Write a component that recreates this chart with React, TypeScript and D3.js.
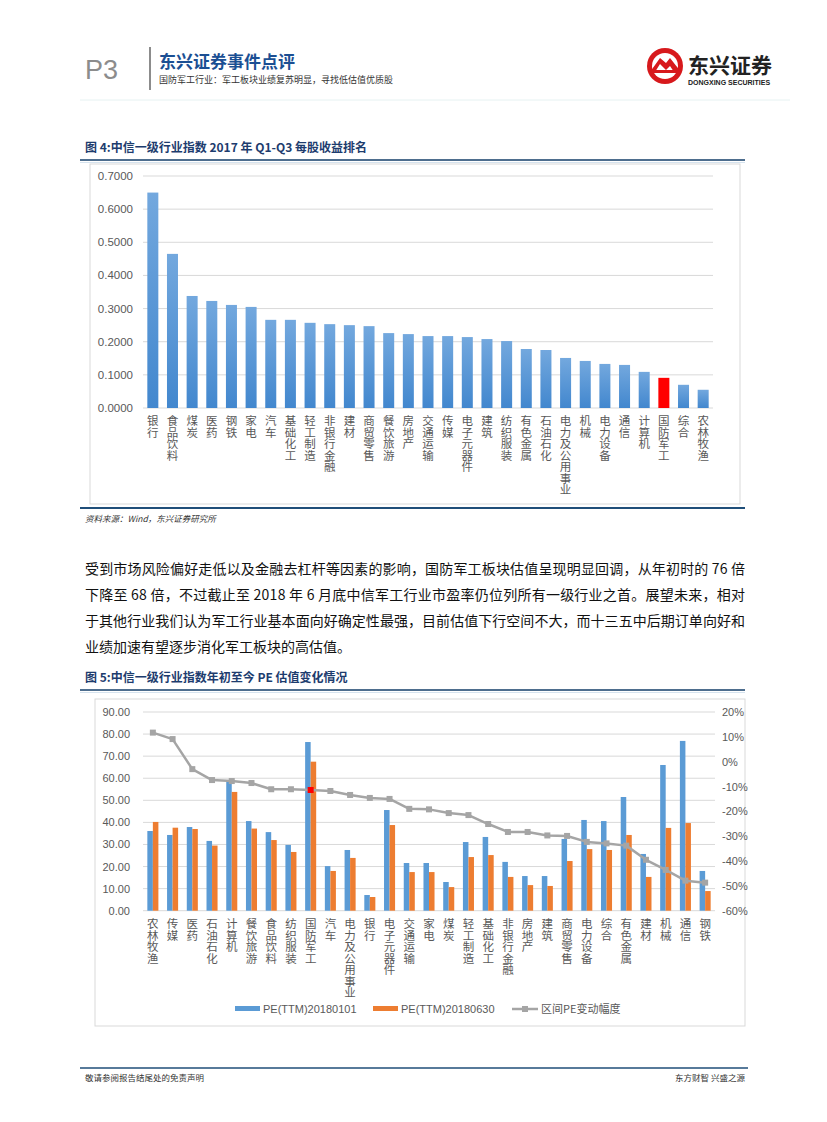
import React from "react";
import * as d3 from "d3";

const cats1 = ["银行","食品饮料","煤炭","医药","钢铁","家电","汽车","基础化工","轻工制造","非银行金融","建材","商贸零售","餐饮旅游","房地产","交通运输","传媒","电子元器件","建筑","纺织服装","有色金属","石油石化","电力及公用事业","机械","电力设备","通信","计算机","国防军工","综合","农林牧渔"];
const eps1 = [0.650,0.465,0.338,0.323,0.311,0.305,0.266,0.266,0.257,0.253,0.250,0.247,0.226,0.223,0.217,0.217,0.214,0.208,0.202,0.178,0.175,0.151,0.142,0.133,0.130,0.109,0.091,0.070,0.055];
const ticks1 = [0,0.1,0.2,0.3,0.4,0.5,0.6,0.7];

const cats2 = ["农林牧渔","传媒","医药","石油石化","计算机","餐饮旅游","食品饮料","纺织服装","国防军工","汽车","电力及公用事业","银行","电子元器件","交通运输","家电","煤炭","轻工制造","基础化工","非银行金融","房地产","建筑","商贸零售","电力设备","综合","有色金属","建材","机械","通信","钢铁"];
const pe0101 = [36.1,34.3,37.9,31.6,58.5,40.6,35.6,29.8,76.4,20.2,27.5,7.1,45.6,21.6,21.6,13.0,31.1,33.4,22.1,15.7,15.7,32.5,41.1,40.6,51.5,25.7,66.0,76.9,18.0];
const pe0630 = [40.2,37.6,37.0,29.5,53.8,37.2,32.0,26.6,67.5,18.0,23.9,6.2,38.8,17.5,17.5,10.7,24.3,25.2,15.3,11.6,11.2,22.5,27.9,27.5,34.3,15.3,37.5,39.7,8.9];
const peChange = [11.7,9.1,-3.0,-7.4,-7.8,-8.6,-11.1,-11.1,-11.4,-11.8,-13.4,-14.6,-15.0,-19.0,-19.2,-20.7,-21.5,-25.1,-28.3,-28.3,-29.7,-29.9,-32.3,-32.9,-33.8,-39.5,-43.6,-47.9,-48.7];
const leftTicks2 = [0,10,20,30,40,50,60,70,80,90];
const rightTicks2 = [20,10,0,-10,-20,-30,-40,-50,-60];

const paraLines = [
  "受到市场风险偏好走低以及金融去杠杆等因素的影响，国防军工板块估值呈现明显回调，从年初时的 76 倍",
  "下降至 68 倍，不过截止至 2018 年 6 月底中信军工行业市盈率仍位列所有一级行业之首。展望未来，相对",
  "于其他行业我们认为军工行业基本面向好确定性最强，目前估值下行空间不大，而十三五中后期订单向好和",
  "业绩加速有望逐步消化军工板块的高估值。",
];

const CJK = "'Noto Sans CJK SC', sans-serif";
const NUM = "'Liberation Sans', 'Noto Sans CJK SC', sans-serif";
const AX = "#595959";
const GRID = "#d9d9d9";
const BLUE = "#5b9bd5";
const ORANGE = "#ed7d31";
const GRAY = "#a5a5a5";

function VLabel({ x, y, s, size = 11.5 }: { x: number; y: number; s: string; size?: number }) {
  return (
    <text x={x} y={y} fontFamily={CJK} fontSize={size} fill={AX}
      style={{ writingMode: "vertical-rl", textOrientation: "upright" } as React.CSSProperties}>
      {s}
    </text>
  );
}

export default function App() {
  // Chart 1 scales
  const x1 = d3.scaleBand<string>().domain(cats1).range([143, 713]).paddingInner(0.44).paddingOuter(0.22);
  const y1 = d3.scaleLinear().domain([0, 0.7]).range([408, 176]);

  // Chart 2 scales
  const x2 = d3.scaleBand<string>().domain(cats2).range([143, 715]).paddingInner(0.44).paddingOuter(0.22);
  const xs = d3.scaleBand<string>().domain(["a", "b"]).range([0, x2.bandwidth()]);
  const yL = d3.scaleLinear().domain([0, 90]).range([910.7, 712]);
  const yR = d3.scaleLinear().domain([-60, 20]).range([910.7, 712]);
  const line = d3.line<number>().x((_, i) => (x2(cats2[i]) as number) + x2.bandwidth() / 2).y((d) => yR(d));

  return (
    <svg width={827} height={1122} style={{ position: "absolute", left: 0, top: 0, background: "#fff" }}>
      <defs>
        <linearGradient id="g1" x1="0" y1="0" x2="0" y2="1">
          <stop offset="0" stopColor="#73a8de" />
          <stop offset="1" stopColor="#4287ce" />
        </linearGradient>
      </defs>

      {/* Header */}
      <text x={85} y={79} fontFamily={NUM} fontSize={27} fill="#8c8c8c">P3</text>
      <line x1={150} y1={47} x2={150} y2={90} stroke="#8c8c8c" strokeWidth={2} />
      <text x={159} y={68} fontFamily={CJK} fontSize={17} fontWeight={700} fill="#1b4f93">东兴证券事件点评</text>
      <text x={159} y={83} fontFamily={CJK} fontSize={9} fill="#333">国防军工行业：军工板块业绩复苏明显，寻找低估值优质股</text>
      <g>
        <circle cx={665} cy={66} r={18} fill="#d7191c" />
        <circle cx={665} cy={66} r={13} fill="#fff" />
        <path d="M650,72 L660,58 L666,63 L670,58 L681,72 L674,72 L670,66 L666,70 L660,64 L655,72 Z" fill="#d7191c" />
        <rect x={652} y={70} width={26} height={3} fill="#d7191c" />
      </g>
      <text x={688} y={73} fontFamily={CJK} fontSize={21} fontWeight={700} fill="#222">东兴证券</text>
      <text x={688} y={85} fontFamily={NUM} fontSize={7} fontWeight={700} fill="#222">DONGXING SECURITIES</text>
      <line x1={80} y1={100} x2={790} y2={100} stroke="#e6f2f2" strokeWidth={1} />

      {/* Chart 1 title */}
      <text x={85} y={152} fontFamily={CJK} fontSize={12} fontWeight={700} fill="#1d3c6e">图 4:中信一级行业指数 2017 年 Q1-Q3 每股收益排名</text>
      <line x1={80} y1={160} x2={745} y2={160} stroke="#4e6e8e" strokeWidth={2} />
      <line x1={80} y1={162.5} x2={745} y2={162.5} stroke="#d6e3ee" strokeWidth={1} />
      <rect x={90} y={164} width={650} height={340} fill="none" stroke="#d9d9d9" strokeWidth={1} />

      {ticks1.map((t) => (
        <g key={t}>
          <line x1={143} x2={713} y1={y1(t)} y2={y1(t)} stroke={GRID} strokeWidth={1} />
          <text x={133} y={y1(t) + 4} fontFamily={NUM} fontSize={11.5} fill={AX} textAnchor="end">{t.toFixed(4)}</text>
        </g>
      ))}
      {cats1.map((c, i) => (
        <rect key={c} x={x1(c)} y={y1(eps1[i])} width={x1.bandwidth()} height={y1(0) - y1(eps1[i])} fill={c === "国防军工" ? "#ff0000" : "url(#g1)"} />
      ))}
      {cats1.map((c) => (
        <VLabel key={c} x={(x1(c) as number) + x1.bandwidth() / 2} y={415} s={c} />
      ))}

      <line x1={80} y1={508} x2={745} y2={508} stroke="#1f4e79" strokeWidth={2} />
      <text x={85} y={522} fontFamily={CJK} fontSize={8.5} fontStyle="italic" fill="#333">资料来源：Wind，东兴证券研究所</text>

      {/* Paragraph */}
      {paraLines.map((l, i) => (
        <text key={i} x={85} y={574 + i * 26} fontFamily={CJK} fontSize={14} fill="#111"
          {...(i < 3 ? { textLength: 660, lengthAdjust: "spacing" } : {})}>{l}</text>
      ))}

      {/* Chart 2 title */}
      <text x={85} y={682} fontFamily={CJK} fontSize={12} fontWeight={700} fill="#1d3c6e">图 5:中信一级行业指数年初至今 PE 估值变化情况</text>
      <line x1={80} y1={690} x2={745} y2={690} stroke="#4e6e8e" strokeWidth={2} />
      <line x1={80} y1={692.5} x2={745} y2={692.5} stroke="#d6e3ee" strokeWidth={1} />
      <rect x={95} y={699} width={650} height={327} fill="none" stroke="#d9d9d9" strokeWidth={1} />

      {leftTicks2.map((t) => (
        <g key={t}>
          <line x1={143} x2={715} y1={yL(t)} y2={yL(t)} stroke={GRID} strokeWidth={1} />
          <text x={130} y={yL(t) + 4} fontFamily={NUM} fontSize={11} fill={AX} textAnchor="end">{t.toFixed(2)}</text>
        </g>
      ))}
      {rightTicks2.map((t) => (
        <text key={t} x={722} y={yR(t) + 4} fontFamily={NUM} fontSize={11} fill={AX}>{`${t}%`}</text>
      ))}

      {cats2.map((c, i) => (
        <g key={c}>
          <rect x={(x2(c) as number) + (xs("a") as number)} y={yL(pe0101[i])} width={xs.bandwidth()} height={yL(0) - yL(pe0101[i])} fill={BLUE} />
          <rect x={(x2(c) as number) + (xs("b") as number)} y={yL(pe0630[i])} width={xs.bandwidth()} height={yL(0) - yL(pe0630[i])} fill={ORANGE} />
        </g>
      ))}
      <path d={line(peChange) || ""} fill="none" stroke={GRAY} strokeWidth={2.5} strokeLinejoin="round" />
      {cats2.map((c, i) => (
        <rect key={c} x={(x2(c) as number) + x2.bandwidth() / 2 - 3} y={yR(peChange[i]) - 3} width={6} height={6}
          fill={c === "国防军工" ? "#ff0000" : GRAY} />
      ))}
      {cats2.map((c) => (
        <VLabel key={c} x={(x2(c) as number) + x2.bandwidth() / 2} y={918} s={c} />
      ))}

      {/* Legend */}
      <rect x={235} y={1006} width={25} height={5} fill={BLUE} />
      <text x={263} y={1013} fontFamily={NUM} fontSize={11} fill={AX}>PE(TTM)20180101</text>
      <rect x={373} y={1006} width={25} height={5} fill={ORANGE} />
      <text x={401} y={1013} fontFamily={NUM} fontSize={11} fill={AX}>PE(TTM)20180630</text>
      <line x1={512} x2={538} y1={1009} y2={1009} stroke={GRAY} strokeWidth={2.5} />
      <rect x={522} y={1006} width={6} height={6} fill={GRAY} />
      <text x={541} y={1013} fontFamily={CJK} fontSize={11} fill={AX}>区间PE变动幅度</text>

      {/* Footer */}
      <line x1={80} y1={1068} x2={748} y2={1068} stroke="#1f4e79" strokeWidth={1.5} />
      <text x={85} y={1081} fontFamily={CJK} fontSize={8.5} fill="#333">敬请参阅报告结尾处的免责声明</text>
      <text x={745} y={1081} fontFamily={CJK} fontSize={8.5} fill="#333" textAnchor="end">东方财智 兴盛之源</text>
    </svg>
  );
}
